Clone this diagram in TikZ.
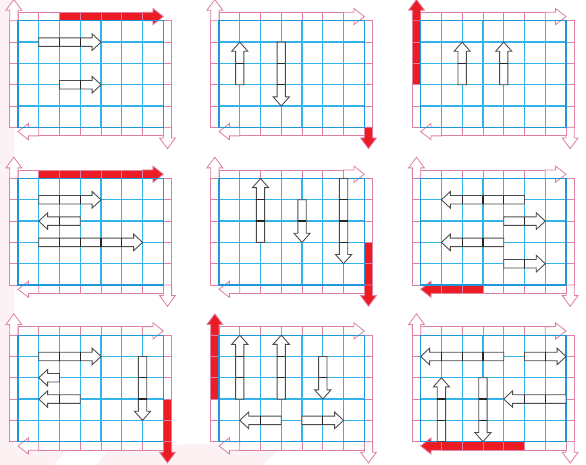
\documentclass[tikz,border=0pt]{standalone}
\usepackage{tikz}

\definecolor{gridblue}{RGB}{50,180,235}
\definecolor{gridedge}{RGB}{30,150,215}
\definecolor{framepink}{RGB}{222,128,163}
\definecolor{markred}{RGB}{236,28,36}
\definecolor{arrowgray}{RGB}{75,75,75}
\definecolor{paper}{RGB}{252,241,243}

% cell size of the squared paper
\def\cw{0.6228cm}
\def\ch{0.639cm}
% frame strips round the grid
\def\stripT{0.4}
\def\stripHW{0.38}
\def\stripHL{0.5}
% block arrows lying on the grid lines
\def\shaftW{0.2}
\def\headW{0.39}
\def\headL{0.43}

% one frame strip in local coordinates: #1 cells, last #2 cells red
\newcommand{\framestrip}[2]{%
  \pgfmathtruncatemacro{\lastbody}{#1-1}
  \pgfmathtruncatemacro{\firstred}{#1-#2}
  \foreach \k in {1,...,\lastbody} {
    \ifnum\k>\firstred \def\cellfill{markred}\else\def\cellfill{white}\fi
    \filldraw[stripcell, fill=\cellfill]
      ({\k-1},0) -- (\k,0) -- (\k,\stripT) -- ({\k-1},\stripT) -- cycle;
  }
  \ifnum#2>0 \def\headfill{markred}\else\def\headfill{white}\fi
  \filldraw[stripcell, fill=\headfill]
    ({#1-1},0) -- ({#1-\stripHL},0) -- ({#1-\stripHL},{\stripT/2-\stripHW})
    -- (#1,{\stripT/2}) -- ({#1-\stripHL},{\stripT/2+\stripHW})
    -- ({#1-\stripHL},\stripT) -- ({#1-1},\stripT) -- cycle;
}

% the four strips: red cells on top, right, bottom, left
\newcommand{\panelframe}[4]{%
  \begin{scope}[shift={(0,5)}, x={(\cw,0cm)}, y={(0cm,\ch)}]
    \framestrip{7}{#1}
  \end{scope}
  \begin{scope}[shift={(7,5)}, x={(0cm,-\ch)}, y={(\cw,0cm)}]
    \framestrip{6}{#2}
  \end{scope}
  \begin{scope}[shift={(7,0)}, x={(-\cw,0cm)}, y={(0cm,-\ch)}]
    \framestrip{7}{#3}
  \end{scope}
  \begin{scope}[shift={(0,0)}, x={(0cm,\ch)}, y={(-\cw,0cm)}]
    \framestrip{6}{#4}
  \end{scope}
}

% horizontal block arrow: row #1, from #2 to #3
\newcommand{\harrow}[3]{%
  \pgfmathsetmacro{\arrdir}{sign(#3-#2)}
  \filldraw[blockarrow]
    (#2,{#1-\shaftW}) -- ({#3-\arrdir*\headL},{#1-\shaftW})
    -- ({#3-\arrdir*\headL},{#1-\headW}) -- (#3,#1)
    -- ({#3-\arrdir*\headL},{#1+\headW}) -- ({#3-\arrdir*\headL},{#1+\shaftW})
    -- (#2,{#1+\shaftW}) -- cycle;
  \pgfmathtruncatemacro{\nlast}{abs(#3-#2)-1}
  \ifnum\nlast>0
    \foreach \k in {1,...,\nlast}
      \draw[divider] ({#2+\arrdir*\k},{#1-\shaftW}) -- ({#2+\arrdir*\k},{#1+\shaftW});
  \fi
}

% vertical block arrow: column #1, from #2 to #3
\newcommand{\varrow}[3]{%
  \pgfmathsetmacro{\arrdir}{sign(#3-#2)}
  \filldraw[blockarrow]
    ({#1-\shaftW},#2) -- ({#1-\shaftW},{#3-\arrdir*\headL})
    -- ({#1-\headW},{#3-\arrdir*\headL}) -- (#1,#3)
    -- ({#1+\headW},{#3-\arrdir*\headL}) -- ({#1+\shaftW},{#3-\arrdir*\headL})
    -- ({#1+\shaftW},#2) -- cycle;
  \pgfmathtruncatemacro{\nlast}{abs(#3-#2)-1}
  \ifnum\nlast>0
    \foreach \k in {1,...,\nlast}
      \draw[divider] ({#1-\shaftW},{#2+\arrdir*\k}) -- ({#1+\shaftW},{#2+\arrdir*\k});
  \fi
}

% squared paper 7 x 5
\newcommand{\squares}{%
  \draw[gridline] \foreach \gx in {1,...,6} {(\gx,0) -- (\gx,5)}
    \foreach \gy in {1,...,4} {(0,\gy) -- (7,\gy)};
  \draw[gridline, gridedge] (0,0) -- (7,0) -- (7,5) -- (0,5) -- cycle;
}

\begin{document}
\begin{tikzpicture}[
    gridline/.style={gridblue, line width=1.1pt},
    stripcell/.style={draw=framepink, line width=0.7pt, fill=white},
    blockarrow/.style={draw=arrowgray, fill=white, line width=0.75pt},
    divider/.style={black!85, line width=1.1pt},
    panel/.style={x=\cw, y=\ch},
]

\useasboundingbox (0,0) rectangle (17.58,-13.95);

% === Pale paper at the edges ===
\fill[paper] (0,0) -- (0.42,0) -- (0.42,-13.95) -- (0,-13.95) -- cycle;
\fill[paper] (0,-13.45) -- (2.2,-13.3) -- (1.6,-13.95) -- (0,-13.95) -- cycle;
\fill[paper] (3.3,-13.4) -- (8.6,-13.25) -- (7.9,-13.95) -- (2.9,-13.95) -- cycle;

% === Row 1 ===
\begin{scope}[shift={(0.54,-3.82)}, panel]
  \panelframe{5}{0}{0}{0}
  \squares
  \harrow{4}{1}{4}
  \harrow{2}{2}{4}
\end{scope}

\begin{scope}[shift={(6.57,-3.82)}, panel]
  \panelframe{0}{1}{0}{0}
  \squares
  \varrow{1}{2}{4}
  \varrow{3}{4}{1}
\end{scope}

\begin{scope}[shift={(12.62,-3.82)}, panel]
  \panelframe{0}{0}{0}{4}
  \squares
  \varrow{2}{2}{4}
  \varrow{4}{2}{4}
\end{scope}

% === Row 2 ===
\begin{scope}[shift={(0.54,-8.55)}, panel]
  \panelframe{6}{0}{0}{0}
  \squares
  \harrow{4}{1}{4}
  \harrow{3}{3}{1}
  \harrow{2}{1}{6}
\end{scope}

\begin{scope}[shift={(6.57,-8.55)}, panel]
  \panelframe{0}{3}{0}{0}
  \squares
  \varrow{2}{2}{5}
  \varrow{4}{4}{2}
  \varrow{6}{5}{1}
\end{scope}

\begin{scope}[shift={(12.62,-8.55)}, panel]
  \panelframe{0}{0}{3}{0}
  \squares
  \harrow{4}{5}{1}
  \harrow{3}{4}{6}
  \harrow{2}{4}{1}
  \harrow{1}{4}{6}
\end{scope}

% === Row 3 ===
\begin{scope}[shift={(0.54,-13.25)}, panel]
  \panelframe{0}{3}{0}{0}
  \squares
  \harrow{4}{1}{4}
  \harrow{3}{2}{1}
  \harrow{2}{3}{1}
  \varrow{6}{4}{1}
\end{scope}

\begin{scope}[shift={(6.57,-13.25)}, panel]
  \panelframe{0}{0}{0}{4}
  \squares
  \varrow{1}{2}{5}
  \varrow{3}{2}{5}
  \varrow{5}{4}{2}
  \harrow{1}{3}{1}
  \harrow{1}{4}{6}
\end{scope}

\begin{scope}[shift={(12.62,-13.25)}, panel]
  \panelframe{0}{0}{5}{0}
  \squares
  \harrow{4}{4}{0}
  \harrow{4}{5}{7}
  \varrow{1}{0}{3}
  \varrow{3}{3}{0}
  \harrow{2}{7}{4}
\end{scope}

\end{tikzpicture}
\end{document}
